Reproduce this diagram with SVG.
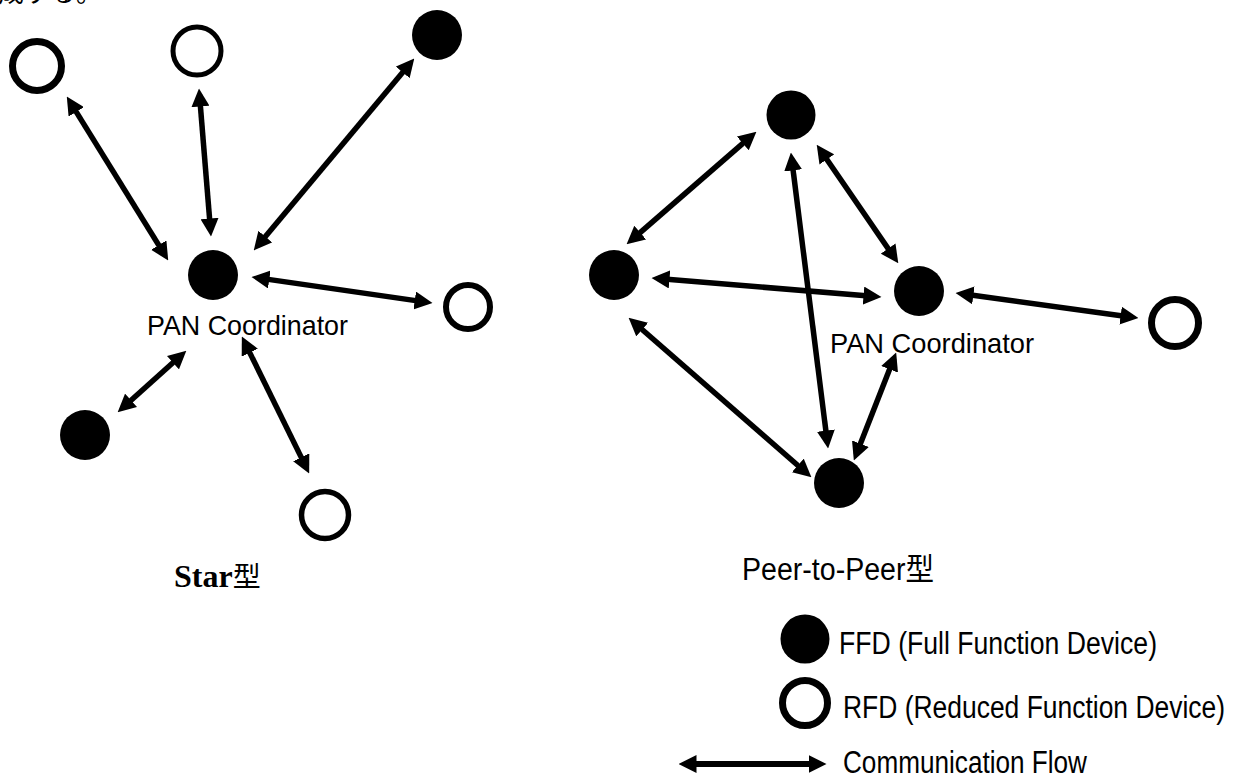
<svg xmlns="http://www.w3.org/2000/svg" width="1238" height="776" viewBox="0 0 1238 776">
  <style>
    .ffd { fill: #000; }
    .rfd { fill: #fff; stroke: #000; }
    .link { stroke: #000; stroke-width: 5.5; fill: none; marker-start: url(#head); marker-end: url(#head); }
    .label { font-family: "Liberation Sans", Arial, sans-serif; fill: #000; }
    .jp { font-family: "Noto Sans CJK JP", sans-serif; }
  </style>
  <defs>
    <marker id="head" viewBox="0 0 18 18" markerUnits="userSpaceOnUse" markerWidth="18" markerHeight="18" refX="11.5" refY="9" orient="auto-start-reverse">
      <path d="M0,0 L18,9 L0,18 z" fill="#000"/>
    </marker>
  </defs>

  <rect width="1238" height="776" fill="#fff"/>

  <!-- tail of the preceding paragraph, cut by the page top -->
  <text x="-2" y="2" class="jp" font-size="26">成する。</text>

  <!-- connectors -->
  <g id="connectors">
    <!-- star topology -->
    <line class="link" x1="70.2" y1="102.1" x2="164.8" y2="254.9"/>
    <line class="link" x1="199.5" y1="95" x2="210.5" y2="230"/>
    <line class="link" x1="410.1" y1="63.6" x2="257.9" y2="245.4"/>
    <line class="link" x1="257.9" y1="277.9" x2="426.1" y2="302.1"/>
    <line class="link" x1="122.5" y1="408" x2="181.5" y2="355"/>
    <line class="link" x1="244.7" y1="342.4" x2="306.3" y2="467.6"/>
    <!-- peer-to-peer topology -->
    <line class="link" x1="751.5" y1="135.9" x2="631.5" y2="240.1"/>
    <line class="link" x1="791.7" y1="159" x2="827.3" y2="442"/>
    <line class="link" x1="820.4" y1="150" x2="894.6" y2="258"/>
    <line class="link" x1="658" y1="278.5" x2="875" y2="296.5"/>
    <line class="link" x1="962" y1="293.8" x2="1132" y2="317.2"/>
    <line class="link" x1="633.5" y1="322" x2="806.5" y2="473"/>
    <line class="link" x1="893.8" y1="358.6" x2="856.2" y2="454.4"/>
    <!-- legend arrow -->
    <line class="link" style="stroke-width:6" x1="685" y1="764" x2="820" y2="764"/>
  </g>

  <!-- star topology nodes -->
  <g id="star-rfd-1"><circle class="rfd" cx="37" cy="66" r="24.5" stroke-width="7"/></g>
  <g id="star-rfd-2"><circle class="rfd" cx="197" cy="51" r="24" stroke-width="5"/></g>
  <g id="star-ffd-1"><circle class="ffd" cx="437" cy="35" r="25"/></g>
  <g id="star-pan">
    <circle class="ffd" cx="213" cy="275" r="25"/>
    <text class="label" x="147" y="335" font-size="28" textLength="201" lengthAdjust="spacingAndGlyphs">PAN Coordinator</text>
  </g>
  <g id="star-rfd-3"><circle class="rfd" cx="468" cy="307" r="22" stroke-width="6"/></g>
  <g id="star-ffd-2"><circle class="ffd" cx="85" cy="435" r="25"/></g>
  <g id="star-rfd-4"><circle class="rfd" cx="325" cy="515" r="23.5" stroke-width="5.5"/></g>
  <g id="star-title">
    <text x="174" y="587" font-family="'Liberation Serif', serif" font-weight="bold" font-size="32">Star<tspan class="jp" font-weight="normal" font-size="28">型</tspan></text>
  </g>

  <!-- peer-to-peer topology nodes -->
  <g id="p2p-ffd-top"><circle class="ffd" cx="791" cy="115" r="24.5"/></g>
  <g id="p2p-ffd-left"><circle class="ffd" cx="614" cy="275" r="25"/></g>
  <g id="p2p-pan">
    <circle class="ffd" cx="919" cy="291" r="25"/>
    <text class="label" x="830" y="353" font-size="28" textLength="204" lengthAdjust="spacingAndGlyphs">PAN Coordinator</text>
  </g>
  <g id="p2p-rfd"><circle class="rfd" cx="1175" cy="323" r="23.5" stroke-width="7"/></g>
  <g id="p2p-ffd-bottom"><circle class="ffd" cx="839" cy="483" r="25"/></g>
  <g id="p2p-title">
    <text class="label" x="742" y="580" font-size="31" textLength="192" lengthAdjust="spacingAndGlyphs">Peer-to-Peer<tspan class="jp">型</tspan></text>
  </g>

  <!-- legend -->
  <g id="legend-ffd">
    <circle class="ffd" cx="805" cy="639" r="24.5"/>
    <text class="label" x="839" y="654" font-size="31" textLength="318" lengthAdjust="spacingAndGlyphs">FFD (Full Function Device)</text>
  </g>
  <g id="legend-rfd">
    <circle class="rfd" cx="805" cy="703" r="22.5" stroke-width="7"/>
    <text class="label" x="843" y="718" font-size="31" textLength="382" lengthAdjust="spacingAndGlyphs">RFD (Reduced Function Device)</text>
  </g>
  <g id="legend-flow">
    <text class="label" x="843" y="773" font-size="31" textLength="244" lengthAdjust="spacingAndGlyphs">Communication Flow</text>
  </g>
</svg>
